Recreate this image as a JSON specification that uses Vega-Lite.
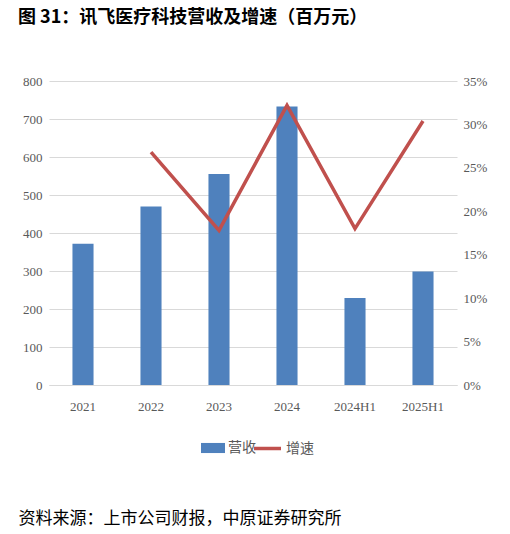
{
  "$schema": "https://vega.github.io/schema/vega-lite/v6.json",
  "width": 408,
  "height": 304,
  "autosize": "none",
  "padding": {"left": 49, "top": 81, "right": 53, "bottom": 149},
  "background": "#ffffff",
  "title": {
    "text": "图 31：讯飞医疗科技营收及增速（百万元）",
    "anchor": "start",
    "frame": "group",
    "dx": -31,
    "offset": 48,
    "font": "Noto Sans CJK SC",
    "fontSize": 18,
    "fontWeight": "bold",
    "color": "#000000"
  },
  "config": {
    "view": {"stroke": null},
    "axis": {
      "labelFont": "Liberation Serif",
      "labelFontSize": 13,
      "labelColor": "#595959",
      "ticks": false,
      "domain": false,
      "gridColor": "#d9d9d9",
      "gridWidth": 1
    },
    "legend": {
      "labelFont": "Noto Sans CJK SC",
      "labelFontSize": 14,
      "labelColor": "#595959",
      "title": null
    }
  },
  "data": {
    "values": [
      {"period": "2021", "revenue": 372, "growth": null},
      {"period": "2022", "revenue": 470, "growth": 0.268},
      {"period": "2023", "revenue": 555, "growth": 0.178},
      {"period": "2024", "revenue": 733, "growth": 0.322},
      {"period": "2024H1", "revenue": 229, "growth": 0.18},
      {"period": "2025H1", "revenue": 299, "growth": 0.304}
    ]
  },
  "encoding": {
    "x": {
      "field": "period",
      "type": "nominal",
      "sort": null,
      "scale": {"paddingInner": 0.69, "paddingOuter": 0.345},
      "axis": {
        "labelAngle": 0,
        "labelPadding": 15,
        "domain": true,
        "domainColor": "#d9d9d9",
        "title": "资料来源：上市公司财报，中原证券研究所",
        "titleFont": "Noto Sans CJK SC",
        "titleFontSize": 17,
        "titleFontWeight": "normal",
        "titleColor": "#000000",
        "titleAnchor": "start",
        "titleAlign": "left",
        "titleBaseline": "middle",
        "titleX": -31,
        "titleY": 133
      }
    }
  },
  "layer": [
    {
      "mark": {"type": "bar", "color": "#4f81bd"},
      "encoding": {
        "y": {
          "field": "revenue",
          "type": "quantitative",
          "scale": {"domain": [0, 800]},
          "axis": {
            "title": null,
            "values": [0, 100, 200, 300, 400, 500, 600, 700, 800],
            "labelPadding": 7
          }
        },
        "color": {
          "datum": "营收",
          "type": "nominal",
          "scale": {"range": ["#4f81bd"]},
          "legend": {
            "orient": "none",
            "legendX": 152,
            "legendY": 355,
            "symbolType": "M-1,-0.42H1V0.42H-1Z",
            "symbolSize": 576,
            "symbolStrokeWidth": 0,
            "labelOffset": 3
          }
        }
      }
    },
    {
      "mark": {"type": "line", "strokeWidth": 3.5},
      "encoding": {
        "y": {
          "field": "growth",
          "type": "quantitative",
          "scale": {"domain": [0, 0.35]},
          "axis": {
            "orient": "right",
            "title": null,
            "format": ".0%",
            "values": [0, 0.05, 0.1, 0.15, 0.2, 0.25, 0.3, 0.35],
            "grid": false,
            "labelPadding": 6
          }
        },
        "stroke": {
          "datum": "增速",
          "type": "nominal",
          "scale": {"range": ["#c0504d"]},
          "legend": {
            "orient": "none",
            "legendX": 203,
            "legendY": 352,
            "symbolType": "stroke",
            "symbolSize": 729,
            "symbolStrokeWidth": 3.5,
            "labelOffset": 3
          }
        }
      }
    }
  ],
  "resolve": {"scale": {"y": "independent"}}
}
